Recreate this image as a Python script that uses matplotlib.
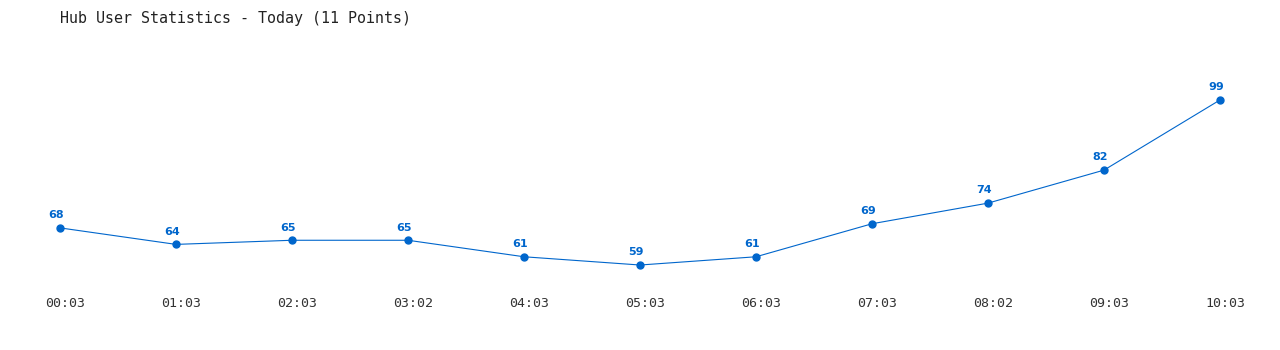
import matplotlib
matplotlib.use("Agg")
import matplotlib.pyplot as plt
from matplotlib.transforms import ScaledTranslation

times = ["00:03", "01:03", "02:03", "03:02", "04:03", "05:03", "06:03", "07:03", "08:02", "09:03", "10:03"]
users = [68, 64, 65, 65, 61, 59, 61, 69, 74, 82, 99]
title = "Hub User Statistics - Today (11 Points)"

W, H = 1280, 350
fig = plt.figure(figsize=(W / 100, H / 100), dpi=100)
# axes in pixel coords: left 40 -> right 1240, top 60 -> bottom 290
ax = fig.add_axes([40 / W, 1 - 290 / H, 1200 / W, 230 / H])
color = "#0066cc"
x = list(range(len(times)))
ax.plot(x, users, color=color, linewidth=0.8, marker="o", markersize=5)
for xi, v in zip(x, users):
    ax.annotate(str(v), (xi, v), xytext=(-3, 5.5), textcoords="offset points",
                ha="center", va="bottom", fontsize=8, fontweight="bold",
                color=color, family="DejaVu Sans")

px_per_x = 116
ax.set_xlim(-20 / px_per_x, 10 + 20 / px_per_x)
ppu = 4.13
ax.set_ylim(59 - 25 / ppu, 99 + 40 / ppu)
ax.set_xticks(x)
ax.set_xticklabels(times, family="DejaVu Sans Mono", fontsize=9.5, color="#333333")
ax.tick_params(axis="x", length=0, pad=5)
offset = ScaledTranslation(5 / 100, 0, fig.dpi_scale_trans)
for lbl in ax.get_xticklabels():
    lbl.set_transform(lbl.get_transform() + offset)
ax.set_yticks([])
for s in ax.spines.values():
    s.set_visible(False)

fig.text(60 / W, 1 - 18 / H, title, family="DejaVu Sans Mono", fontsize=10.8,
         color="#222222", ha="left", va="center")

fig.savefig("out.png", dpi=100)
